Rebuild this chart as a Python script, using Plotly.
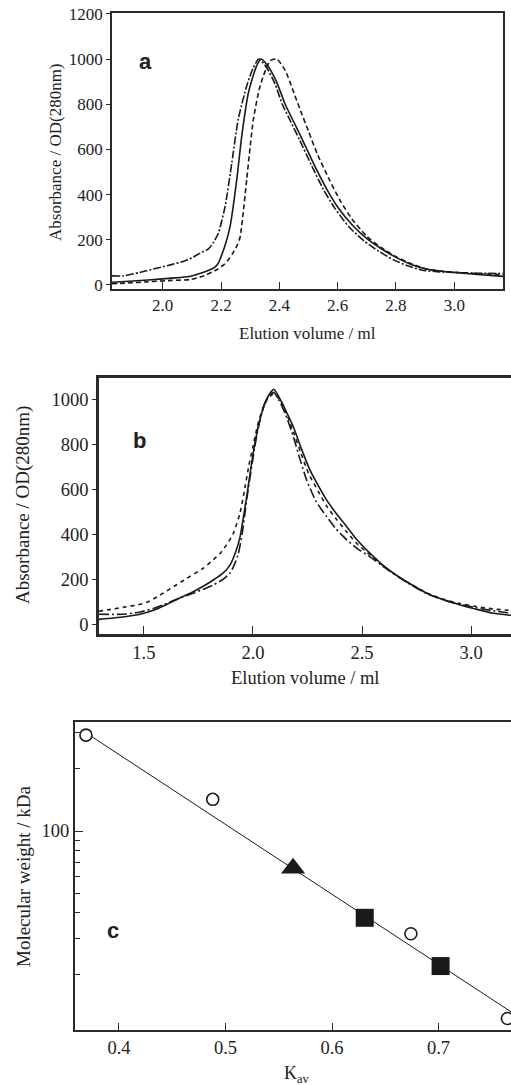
import plotly.graph_objects as go

W, H = 511, 1085

# ---------------- Panel a data ----------------
a_solid_x = [1.826, 1.87, 1.95, 2.03, 2.09, 2.13, 2.16, 2.178, 2.19, 2.2, 2.215, 2.231, 2.254, 2.271, 2.294,
             2.322, 2.338, 2.36, 2.39, 2.42, 2.45, 2.48, 2.52, 2.56, 2.6, 2.65, 2.7, 2.75, 2.8, 2.85, 2.9,
             2.95, 3.0, 3.08, 3.167]
a_solid_y = [12, 15, 22, 30, 37, 52, 66, 78, 95, 125, 180, 259, 467, 659, 852,
             970, 1000, 970, 900, 800, 720, 640, 530, 430, 345, 265, 205, 160, 122, 92, 72,
             62, 55, 46, 38]

a_dashdot_x = [1.826, 1.865, 1.92, 1.979, 2.03, 2.07, 2.1, 2.128, 2.157, 2.175, 2.191, 2.214, 2.237, 2.259,
               2.288, 2.31, 2.33, 2.355, 2.385, 2.41, 2.44, 2.47, 2.51, 2.55, 2.59, 2.64, 2.69, 2.74,
               2.79, 2.84, 2.89, 2.95, 3.0, 3.08, 3.167]
a_dashdot_y = [40, 40, 55, 74, 90, 104, 120, 141, 160, 190, 230, 348, 541, 733,
               881, 960, 1000, 965, 890, 800, 720, 640, 530, 425, 340, 255, 195, 150,
               112, 85, 65, 58, 55, 52, 50]

a_dash_x = [1.826, 1.87, 1.95, 2.03, 2.094, 2.14, 2.185, 2.21, 2.225, 2.24, 2.255, 2.265, 2.276, 2.288,
            2.311, 2.334, 2.368, 2.391, 2.42, 2.45, 2.47, 2.5, 2.53, 2.57, 2.61, 2.65, 2.7, 2.75, 2.8,
            2.85, 2.9, 2.95, 3.0, 3.08, 3.167]
a_dash_y = [5, 8, 14, 20, 24, 40, 67, 90, 111, 140, 175, 210, 319, 467,
            733, 881, 992, 1000, 950, 850, 780, 680, 580, 470, 370, 290, 215, 165, 125,
            95, 72, 62, 56, 50, 45]

a_xticks = [2.0, 2.2, 2.4, 2.6, 2.8, 3.0]
a_yticks = [0, 200, 400, 600, 800, 1000, 1200]

# ---------------- Panel b data ----------------
b_solid_x = [1.294, 1.359, 1.42, 1.482, 1.55, 1.604, 1.66, 1.726, 1.77, 1.818, 1.86, 1.894, 1.92, 1.94,
             1.955, 1.971, 1.986, 2.001, 2.02, 2.04, 2.06, 2.078, 2.096, 2.13, 2.16, 2.185, 2.22, 2.261,
             2.3, 2.338, 2.38, 2.43, 2.48, 2.537, 2.59, 2.644, 2.72, 2.797, 2.87, 2.95, 3.02, 3.102, 3.183]
b_solid_y = [22, 28, 35, 45, 65, 88, 115, 145, 168, 197, 225, 262, 320, 385,
             470, 567, 665, 760, 860, 938, 995, 1027, 1044, 990, 930, 878, 785, 686,
             615, 552, 495, 434, 372, 315, 268, 227, 180, 138, 110, 86, 68, 49, 40]

b_dashdot_x = [1.294, 1.359, 1.42, 1.482, 1.55, 1.604, 1.66, 1.726, 1.77, 1.818, 1.86, 1.894, 1.915, 1.933,
               1.95, 1.963, 1.978, 1.994, 2.012, 2.032, 2.055, 2.078, 2.096, 2.13, 2.16, 2.185, 2.215,
               2.246, 2.29, 2.338, 2.38, 2.43, 2.48, 2.537, 2.59, 2.644, 2.72, 2.797, 2.87, 2.95, 3.02,
               3.102, 3.183]
b_dashdot_y = [45, 44, 46, 55, 72, 93, 115, 138, 155, 175, 198, 227, 265, 315,
               400, 493, 600, 700, 810, 908, 985, 1022, 1030, 975, 905, 834, 735,
               641, 545, 478, 425, 375, 335, 300, 262, 225, 178, 136, 110, 88, 75,
               60, 50]

b_dash_x = [1.294, 1.359, 1.42, 1.47, 1.52, 1.56, 1.604, 1.65, 1.696, 1.772, 1.81, 1.849, 1.88, 1.91,
            1.94, 1.96, 1.98, 2.0, 2.02, 2.045, 2.07, 2.096, 2.13, 2.16, 2.185, 2.22, 2.255, 2.3, 2.338,
            2.38, 2.43, 2.48, 2.537, 2.59, 2.644, 2.72, 2.797, 2.87, 2.95, 3.02, 3.102, 3.183]
b_dash_y = [58, 68, 78, 86, 100, 122, 148, 176, 204, 249, 280, 315, 355, 404,
            493, 590, 700, 790, 880, 960, 1005, 1025, 985, 920, 855, 760, 670, 590, 525,
            470, 410, 355, 308, 265, 226, 180, 140, 112, 92, 80, 68, 62]

b_xticks = [1.5, 2.0, 2.5, 3.0]
b_yticks = [0, 200, 400, 600, 800, 1000]

# ---------------- Panel c data ----------------
c_circle_kav = [0.369, 0.488, 0.674, 0.7647]
c_circle_mw = [292, 142.5, 31.7, 12.3]
c_triangle_kav = [0.5634]
c_triangle_mw = [66]
c_square_kav = [0.6307, 0.7019]
c_square_mw = [37.9, 22.1]
c_fit_intercept = 3.729   # log10(MW) = intercept + slope * Kav
c_fit_slope = -3.394
c_fit_kav = [0.369, 0.768]
c_fit_mw = [10 ** (c_fit_intercept + c_fit_slope * k) for k in c_fit_kav]
c_xticks = [0.4, 0.5, 0.6, 0.7]
c_ymajor = [100]
c_yminor = [20, 30, 40, 50, 60, 70, 80, 90, 200, 300]

SERIF = "Liberation Serif"
SANS = "Liberation Sans"
INK = "#1a1a1a"
AX = "#2a2a2a"
TXT = "#222222"

fig = go.Figure()

def curve(x, y, dash, xa, ya, w=1.6):
    fig.add_trace(go.Scatter(x=x, y=y, mode="lines", xaxis=xa, yaxis=ya,
                             line=dict(color=INK, width=w, dash=dash, shape="spline", smoothing=0.6),
                             showlegend=False, hoverinfo="skip"))

curve(a_solid_x, a_solid_y, "solid", "x", "y")
curve(a_dashdot_x, a_dashdot_y, "8px,2px,2px,2px", "x", "y")
curve(a_dash_x, a_dash_y, "5px,3px", "x", "y")

curve(b_solid_x, b_solid_y, "solid", "x2", "y2")
curve(b_dashdot_x, b_dashdot_y, "10px,3px,2px,3px", "x2", "y2")
curve(b_dash_x, b_dash_y, "4px,4px", "x2", "y2")

fig.add_trace(go.Scatter(x=c_fit_kav, y=c_fit_mw, mode="lines", xaxis="x3", yaxis="y3",
                         line=dict(color=INK, width=1), showlegend=False, hoverinfo="skip"))
fig.add_trace(go.Scatter(x=c_circle_kav, y=c_circle_mw, mode="markers", xaxis="x3", yaxis="y3",
                         marker=dict(symbol="circle", size=12, color="white",
                                     line=dict(color=INK, width=1.6)),
                         showlegend=False, hoverinfo="skip"))
fig.add_trace(go.Scatter(x=c_triangle_kav, y=c_triangle_mw, mode="markers", xaxis="x3", yaxis="y3",
                         marker=dict(symbol="triangle-up", size=21, color=INK, line=dict(width=0)),
                         showlegend=False, hoverinfo="skip"))
fig.add_trace(go.Scatter(x=c_square_kav, y=c_square_mw, mode="markers", xaxis="x3", yaxis="y3",
                         marker=dict(symbol="square", size=18, color=INK, line=dict(width=0)),
                         showlegend=False, hoverinfo="skip"))

def px2fx(px):
    return px / W

def py2fy(py):
    return 1 - py / H

common = dict(showgrid=False, zeroline=False, showline=True, linecolor=AX, tickcolor=AX,
              ticks="outside", automargin=False)

fig.update_layout(
    width=W, height=H, margin=dict(l=0, r=0, t=0, b=0),
    paper_bgcolor="white", plot_bgcolor="white",
    font=dict(family=SERIF, color=TXT),
    xaxis=dict(**{**common, "ticks": "inside"}, domain=[px2fx(112), px2fx(503)], anchor="y",
               range=[1.826, 3.167], tickvals=a_xticks, ticktext=[f"{v:.1f}" for v in a_xticks],
               ticklen=7, linewidth=1.5, mirror=True,
               tickfont=dict(family=SERIF, size=17, color=TXT)),
    yaxis=dict(**common, domain=[py2fy(289), py2fy(12.7)], anchor="x",
               range=[-18, 1205], tickvals=a_yticks, ticklen=4, linewidth=1.5, mirror=True,
               tickfont=dict(family=SERIF, size=17, color=TXT)),
    xaxis2=dict(**{**common, "ticks": "inside"}, domain=[px2fx(99), 1.0], anchor="y2",
                range=[1.294, 3.183], tickvals=b_xticks, ticktext=[f"{v:.1f}" for v in b_xticks],
                ticklen=8, linewidth=2.5, mirror=True,
                tickfont=dict(family=SERIF, size=18.5, color=TXT)),
    yaxis2=dict(**common, domain=[py2fy(634), py2fy(378.3)], anchor="x2",
                range=[-43, 1093], tickvals=b_yticks, ticklen=4, linewidth=2.5,
                tickfont=dict(family=SERIF, size=18.5, color=TXT)),
    xaxis3=dict(**{**common, "ticks": "inside"}, domain=[px2fx(75), 1.0], anchor="y3",
                range=[0.3587, 0.768], tickvals=c_xticks, ticktext=[f"{v:.1f}" for v in c_xticks],
                ticklen=7, linewidth=2, mirror=True,
                tickfont=dict(family=SERIF, size=18.5, color=TXT)),
    yaxis3=dict(**{**common, "ticks": "inside"}, domain=[py2fy(1030), py2fy(721.7)], anchor="x3",
                type="log", range=[1.034, 2.5306], tickvals=c_ymajor, ticktext=["100"],
                ticklen=8, linewidth=2,
                minor=dict(tickvals=c_yminor, ticks="inside", ticklen=5, tickcolor=AX),
                tickfont=dict(family=SERIF, size=18.5, color=TXT)),
)

ann = []
def text(t, px, py, size, family=SERIF, angle=0, bold=False):
    ann.append(dict(text=f"<b>{t}</b>" if bold else t, x=px2fx(px), y=py2fy(py), xref="paper", yref="paper",
                    showarrow=False, xanchor="center", yanchor="middle", textangle=angle,
                    font=dict(family=family, size=size, color=TXT)))

text("a", 145, 61, 22, SANS, bold=True)
text("b", 139, 440, 22, SANS, bold=True)
text("c", 113, 930, 22, SANS, bold=True)
text("Elution volume / ml", 307, 333, 17)
text("Absorbance / OD(280nm)", 55, 152, 17, angle=-90)
text("Elution volume / ml", 305, 678, 18.5)
text("Absorbance / OD(280nm)", 23, 505, 19, angle=-90)
text("K<sub>av</sub>", 297, 1074, 18)
text("Molecular weight / kDa", 23, 876, 19, angle=-90)
fig.update_layout(annotations=ann)

fig.write_html("out.html", config={"displayModeBar": False},
               post_script="document.body.style.margin='0';")
